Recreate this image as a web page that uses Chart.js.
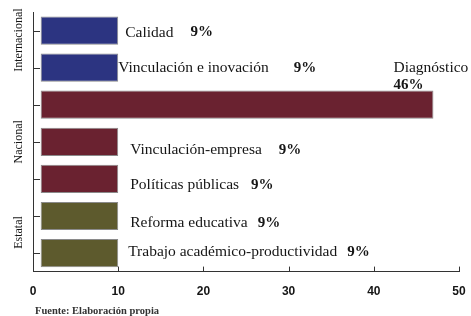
<!DOCTYPE html>
<html>
<head>
<meta charset="utf-8">
<script src="https://cdn.jsdelivr.net/npm/chart.js@4.4.0/dist/chart.umd.min.js"></script>
<style>
html,body{margin:0;padding:0;background:#fff;}
#wrap{width:471px;height:316px;position:relative;}
</style>
</head>
<body>
<div id="wrap"><canvas id="c" width="471" height="316"></canvas></div>
<script>
// ---- data ----
const categories = ['Calidad','Vinculación e inovación','Diagnóstico','Vinculación-empresa','Políticas públicas','Reforma educativa','Trabajo académico-productividad'];
const percentLabels = ['9%','9%','46%','9%','9%','9%','9%'];
const barStart = [0.9,0.9,0.9,0.9,0.9,0.9,0.9];
const barEnd = [10,10,47,10,10,10,10];
const groupNames = ['Internacional','Nacional','Estatal'];
const groupOfCategory = [0,0,1,1,1,2,2];
const xTicks = [0,10,20,30,40,50];
const sourceNote = 'Fuente: Elaboración propia';

// ---- styles ----
const groupColors = ['#2c3481','#6a2230','#5d5a2d'];
const labelOffsets = [[7,2],[0,0],[-40,-37],[12,8],[12,6],[12,7],[10,-1]];
const pctGaps = [17,25,0,17,12,10,10];
const groupLabelShift = [-9,0,-2];
const textColor = '#151515';

const rangeData = categories.map((c,i)=>[barStart[i], barEnd[i]]);

const annotate = {
  id:'annotate',
  afterDraw(chart){
    const ctx = chart.ctx;
    const meta = chart.getDatasetMeta(0);
    const xs = chart.scales.x, ys = chart.scales.y;
    ctx.save();
    // inward tick marks
    ctx.strokeStyle = '#333';
    ctx.lineWidth = 1;
    xTicks.forEach(v=>{
      const px = Math.round(xs.getPixelForValue(v))+0.5;
      ctx.beginPath(); ctx.moveTo(px, xs.top); ctx.lineTo(px, xs.top-5); ctx.stroke();
    });
    categories.forEach((c,i)=>{
      const py = Math.round(ys.getPixelForValue(i))+0.5;
      ctx.beginPath(); ctx.moveTo(ys.right, py); ctx.lineTo(ys.right+7, py); ctx.stroke();
    });
    // bar labels
    ctx.fillStyle = textColor;
    ctx.textBaseline = 'middle';
    ctx.textAlign = 'left';
    const f = '15.5px "Liberation Serif"';
    const fb = 'bold 15px "Liberation Serif"';
    meta.data.forEach((bar,i)=>{
      const [dx,dy] = labelOffsets[i];
      const x = bar.x + dx, y = bar.y + dy;
      ctx.font = f;
      if (i === 2) {
        ctx.fillText(categories[i], x, y);
        ctx.font = fb;
        ctx.fillText(percentLabels[i], x, y+17);
      } else {
        ctx.fillText(categories[i], x, y);
        const w = ctx.measureText(categories[i]).width;
        ctx.font = fb;
        ctx.fillText(percentLabels[i], x + w + pctGaps[i], y);
      }
    });
    // group labels (rotated)
    ctx.font = '12px "Liberation Serif"';
    ctx.textAlign = 'center';
    groupNames.forEach((g,gi)=>{
      const idx = groupOfCategory.map((v,i)=>v===gi?i:-1).filter(i=>i>=0);
      const y0 = ys.getPixelForValue(idx[0]), y1 = ys.getPixelForValue(idx[idx.length-1]);
      const cy = (y0+y1)/2 + groupLabelShift[gi];
      ctx.save();
      ctx.translate(19, cy);
      ctx.rotate(-Math.PI/2);
      ctx.fillText(g, 0, 0);
      ctx.restore();
    });
    // source note
    ctx.font = 'bold 10.5px "Liberation Serif"';
    ctx.fillStyle = '#333';
    ctx.textAlign = 'left';
    ctx.fillText(sourceNote, 35, 311);
    ctx.restore();
  }
};

new Chart(document.getElementById('c'), {
  type:'bar',
  data:{
    labels: categories,
    datasets:[{
      data: rangeData,
      backgroundColor: groupOfCategory.map(g=>groupColors[g]),
      borderColor: '#8a8a8a',
      borderWidth: 1,
      borderSkipped: false,
      barPercentage: 0.76,
      categoryPercentage: 1.0
    }]
  },
  options:{
    indexAxis:'y',
    responsive:false,
    animation:false,
    layout:{autoPadding:false, padding:{left:33,right:12,top:12,bottom:4}},
    plugins:{legend:{display:false},tooltip:{enabled:false}},
    scales:{
      x:{
        type:'linear', min:0, max:50,
        afterBuildTicks(s){ s.ticks = xTicks.map(v=>({value:v})); },
        afterFit(s){ s.paddingLeft = 0; s.paddingRight = 0; },
        grid:{display:false, drawTicks:false},
        border:{display:true,color:'#333',width:1},
        ticks:{padding:13,color:textColor,font:{family:'"Liberation Sans"',size:12,weight:'bold'}}
      },
      y:{
        afterFit(s){ s.width = 0; },
        grid:{display:false, drawTicks:false},
        border:{display:true,color:'#333',width:1},
        ticks:{display:false}
      }
    }
  },
  plugins:[annotate]
});
</script>
</body>
</html>
